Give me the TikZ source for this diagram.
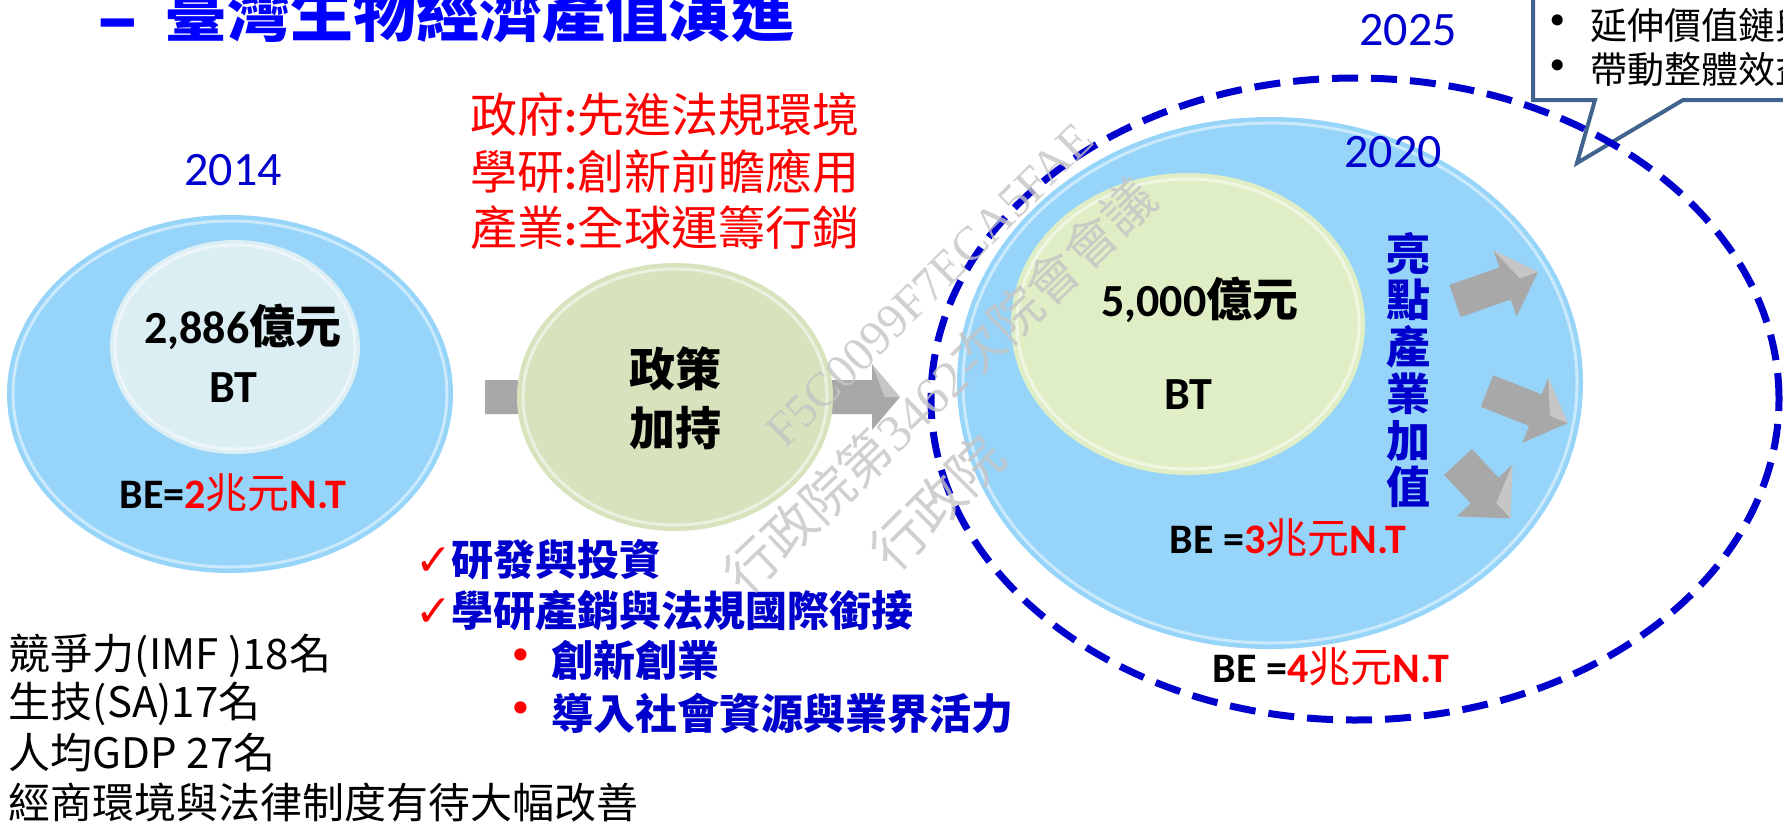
\documentclass[tikz,border=0pt]{standalone}
\usepackage{fontspec}
\setmainfont{Carlito}
\newfontfamily\cjk{Noto Sans CJK TC}
\newfontfamily\wmserif{Liberation Serif}
\newfontfamily\dejavu{DejaVu Sans}
\newcommand\fsz[1]{\fontsize{#1pt}{#1pt}\selectfont}
\definecolor{bluefill}{HTML}{96D4FA}
\definecolor{paleblue}{HTML}{DAEEF3}
\definecolor{palegreen}{HTML}{D7E3BD}
\definecolor{yellowgreen}{HTML}{E0EEC6}
\definecolor{darkblue}{HTML}{0000CC}
\definecolor{titleblue}{HTML}{0000FF}
\definecolor{callout}{HTML}{41648F}
\definecolor{wmgrey}{HTML}{C4C4C4}
\definecolor{arrowgrey}{HTML}{A8A8A8}
% block arrow: x y angle length bodyhalf headhalf headlength
\newcommand\garrow[7]{%
  \begin{scope}[shift={(#1,#2)},rotate=#3]
    \fill[arrowgrey] (0,-#5) -- (#4-#7,-#5) -- (#4-#7,-#6) -- (#4,0) -- (#4-#7,#6) -- (#4-#7,#5) -- (0,#5) -- cycle;
    \fill[white,opacity=0.35] (#4,0) -- (#4-#7,-#6) -- (#4-0.55*#7,0) -- cycle;
  \end{scope}}
\begin{document}
\begin{tikzpicture}[x=1pt,y=-1pt,inner sep=0pt,outer sep=0pt,
  year/.style={text=darkblue,font=\fsz{48}},
  big/.style={font=\bfseries\fsz{46}},
  be/.style={font=\bfseries\fsz{42}},
  redline/.style={text=red,font=\cjk\fsz{47}},
  check/.style={anchor=west,text=darkblue,font=\cjk\bfseries\fsz{42}},
  plain/.style={anchor=west,font=\cjk\fsz{42}},
  bul/.style={text=red,font=\dejavu\fsz{42}},
  wm/.style={text=wmgrey,text opacity=0.8},
  rim/.style={draw=white,draw opacity=0.5,line width=3pt},
]
\useasboundingbox (0,0) rectangle (1783,823);
\clip (0,0) rectangle (1783,823);

% ---- 2014 ----
\fill[bluefill] (230,394) ellipse [x radius=223pt, y radius=179pt];
\draw[rim] (230,394) ellipse [x radius=217pt, y radius=173pt];
\fill[paleblue] (235,347) ellipse [x radius=125pt, y radius=107pt];
\draw[rim] (235,347) ellipse [x radius=120pt, y radius=102pt];

% ---- policy arrow + ellipse ----
\garrow{485}{397}{0}{415}{17}{33}{28}
\fill[palegreen] (675,397) ellipse [x radius=158pt, y radius=134pt];
\draw[rim] (675,397) ellipse [x radius=152pt, y radius=128pt];

% ---- 2020 ----
\fill[bluefill] (1270,383) ellipse [x radius=313pt, y radius=266pt];
\draw[rim] (1270,383) ellipse [x radius=307pt, y radius=260pt];
\fill[yellowgreen] (1188,324) ellipse [x radius=177pt, y radius=151pt];
\draw[rim] (1188,324) ellipse [x radius=171pt, y radius=145pt];
\garrow{1455}{301}{19.3}{88}{17}{35}{35}
\garrow{1487}{391}{-21.6}{87}{17}{35}{35}
\garrow{1458}{462}{-47}{77}{19}{38}{38}

% ---- title ----
\node[anchor=base,text=titleblue,font=\cjk\bfseries\fsz{74}] (dash) at (118,44) {–};
\node[anchor=base west,text=titleblue,font=\cjk\bfseries\fsz{63}] (title) at (164,36) {臺灣生物經濟產值演進};

% ---- years ----
\node[year] (y2014) at (233,170) {2014};
\node[year] (y2020) at (1393,152) {2020};
\node[year] (y2025) at (1408,30) {2025};

% ---- 2014 texts ----
\node[big] (v2014) at (243,327) {2,886{\cjk 億元}};
\node[big] (bt2014) at (233,388) {BT};
\node[be] (be2014) at (233,493) {BE=\textcolor{red}{2{\cjk\mdseries 兆元}N.T}};

% ---- red policy lines ----
\node[redline] (gov) at (665,115) {政府{\rmfamily\bfseries :}先進法規環境};
\node[redline] (acad) at (665,171) {學研{\rmfamily\bfseries :}創新前瞻應用};
\node[redline] (ind) at (665,228) {產業{\rmfamily\bfseries :}全球運籌行銷};

\node[font=\cjk\bfseries\fsz{46}] (p1) at (675,369) {政策};
\node[font=\cjk\bfseries\fsz{46}] (p2) at (675,428) {加持};

% ---- checklist ----
\node[check] (c1) at (415,560) {{\color{red}\dejavu\fsz{44}✓}研發與投資};
\node[check] (c2) at (415,611) {{\color{red}\dejavu\fsz{44}✓}學研產銷與法規國際銜接};
\node[bul] (b1) at (521,660) {•};
\node[check] (t1) at (551,660) {創新創業};
\node[bul] (b2) at (521,713) {•};
\node[check] (t2) at (551,713) {導入社會資源與業界活力};

% ---- bottom-left ----
\node[plain] (s1) at (9,656) {競爭力(IMF )18名};
\node[plain] (s2) at (9,704) {生技(SA)17名};
\node[plain] (s3) at (9,753) {人均GDP 27名};
\node[plain] (s4) at (9,803) {經商環境與法律制度有待大幅改善};

% ---- 2020 texts ----
\node[big] (v2020) at (1200,300) {5,000{\cjk 億元}};
\node[big] (bt2020) at (1188,395) {BT};
\node[be] (be2020) at (1288,538) {BE =\textcolor{red}{3{\cjk\mdseries 兆元}N.T}};
\node[text=darkblue,font=\cjk\bfseries\fontsize{44pt}{46.7pt}\selectfont,align=center] (hl) at (1408,370) {亮\\點\\產\\業\\加\\值};
\node[be] (be2025) at (1331,667) {BE =\textcolor{red}{4{\cjk\mdseries 兆元}N.T}};

% ---- callout ----
\filldraw[fill=white,draw=callout,line width=4pt,line join=miter] (1533,-20) -- (1533,100) -- (1595,100) -- (1577,163) -- (1683,100) -- (1800,100) -- (1800,-20) -- cycle;
\node[font=\dejavu\fsz{38}] (cb1) at (1558,25) {•};
\node[anchor=west,font=\cjk\fsz{37}] (ct1) at (1590,25) {延伸價值鏈與};
\node[font=\dejavu\fsz{38}] (cb2) at (1558,70) {•};
\node[anchor=west,font=\cjk\fsz{37}] (ct2) at (1590,70) {帶動整體效益};

% ---- 2025 dashed ----
\draw[darkblue,line width=7pt,dash pattern=on 26pt off 13pt] (1355,399) ellipse [x radius=424pt, y radius=321pt];

% ---- watermark ----
\node[wm,rotate=44.6,font=\wmserif\fsz{48}] (wmA) at (930,285) {F5C0099F7ECA5FAE};
\node[wm,rotate=43.7,font=\wmserif\fsz{52}] (wmB) at (940,386) {{\cjk 行政院第}3462{\cjk 次院會會議}};
\node[wm,rotate=45,font=\cjk\fsz{54}] (wmC) at (937,503) {行政院};
\end{tikzpicture}
\end{document}
